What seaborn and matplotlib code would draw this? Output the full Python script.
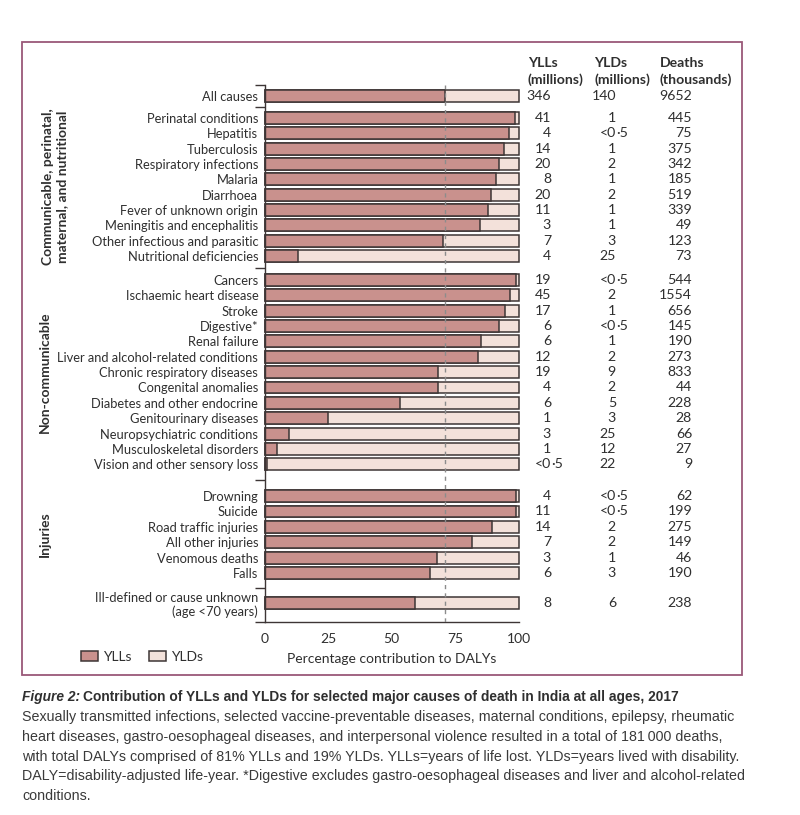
import numpy as np
import pandas as pd
import matplotlib
matplotlib.use('Agg')
import matplotlib.pyplot as plt
import matplotlib.transforms as mtransforms
from matplotlib.patches import Patch, Rectangle
import seaborn as sns

# ---- data ----
causes = ['All causes',
          'Perinatal conditions', 'Hepatitis', 'Tuberculosis', 'Respiratory infections',
          'Malaria', 'Diarrhoea', 'Fever of unknown origin', 'Meningitis and encephalitis',
          'Other infectious and parasitic', 'Nutritional deficiencies',
          'Cancers', 'Ischaemic heart disease', 'Stroke', 'Digestive*', 'Renal failure',
          'Liver and alcohol-related conditions', 'Chronic respiratory diseases',
          'Congenital anomalies', 'Diabetes and other endocrine', 'Genitourinary diseases',
          'Neuropsychiatric conditions', 'Musculoskeletal disorders',
          'Vision and other sensory loss',
          'Drowning', 'Suicide', 'Road traffic injuries', 'All other injuries',
          'Venomous deaths', 'Falls',
          'Ill-defined or cause unknown\n(age <70 years)']
group_of = [0] + [1] * 10 + [2] * 13 + [3] * 6 + [4]
group_names = {1: 'Communicable, perinatal,\nmaternal, and nutritional',
               2: 'Non-communicable', 3: 'Injuries'}

# percentage of DALYs from YLLs (rest is YLDs)
yll_pct = [70.9,
           98.4, 96.2, 94.0, 92.3, 91.0, 89.0, 87.7, 84.8, 70.3, 13.3,
           98.7, 96.5, 94.6, 92.3, 85.2, 84.0, 68.3, 68.3, 53.2, 25.1, 9.7, 4.8, 1.1,
           98.9, 98.9, 89.5, 81.7, 67.8, 64.9,
           59.0]
yll_m = ['346', '41', '4', '14', '20', '8', '20', '11', '3', '7', '4',
         '19', '45', '17', '6', '6', '12', '19', '4', '6', '1', '3', '1', '<0·5',
         '4', '11', '14', '7', '3', '6', '8']
yld_m = ['140', '1', '<0·5', '1', '2', '1', '2', '1', '1', '3', '25',
         '<0·5', '2', '1', '<0·5', '1', '2', '9', '2', '5', '3', '25', '12', '22',
         '<0·5', '<0·5', '2', '2', '1', '3', '6']
deaths_k = ['9652', '445', '75', '375', '342', '185', '519', '339', '49', '123', '73',
            '544', '1554', '656', '145', '190', '273', '833', '44', '228', '28', '66', '27', '9',
            '62', '199', '275', '149', '46', '190', '238']
headers = [('YLLs', '(millions)'), ('YLDs', '(millions)'), ('Deaths', '(thousands)')]

# ---- layout: row positions with extra space between groups ----
gap_extra = {1: 0.43, 2: 0.56, 3: 1.08, 4: 0.96}
pos = []
p = -1.0
for i, g in enumerate(group_of):
    p += 1 + (gap_extra[g] if i > 0 and g != group_of[i - 1] else 0)
    pos.append(p)
y_top, y_bot = -0.72, pos[-1] + 1.24
bounds = [y_top] + [(pos[i] + pos[i + 1]) / 2 for i in range(len(pos) - 1)
                    if group_of[i] != group_of[i + 1]] + [y_bot]

df = pd.DataFrame({'cause': causes, 'pos': pos, 'yll': yll_pct, 'total': 100.0})

YLL_COL = '#C9918D'
YLD_COL = '#F3E1DA'
EDGE = '#3d3535'
TXT = '#2f2f2f'
BORDER = '#9A5878'
CAP_FONT = ['Liberation Sans', 'DejaVu Sans']

sns.set_style('white')
plt.rcParams['font.family'] = ['Lato', 'DejaVu Sans']
plt.rcParams['text.color'] = TXT

fig = plt.figure(figsize=(8, 8.15), dpi=100)
ax = fig.add_axes([264.5 / 800, 1 - 622 / 815, 254.5 / 800, 537 / 815])

sns.barplot(data=df, x='total', y='pos', orient='y', native_scale=True, color=YLD_COL,
            saturation=1, edgecolor=EDGE, linewidth=1.1, width=0.78, errorbar=None, ax=ax)
sns.barplot(data=df, x='yll', y='pos', orient='y', native_scale=True, color=YLL_COL,
            saturation=1, edgecolor=EDGE, linewidth=1.1, width=0.78, errorbar=None, ax=ax)
for bar in ax.patches:
    bar.set_clip_on(False)

# reference line at the all-causes share
ax.axvline(yll_pct[0], color='#8c8c8c', lw=1.0, ls=(0, (3, 3)), zorder=5)

ax.set_xlim(0, 100)
ax.set_ylim(y_bot, y_top)
ax.set_xticks([0, 25, 50, 75, 100])
ax.xaxis.get_major_ticks()[0].tick1line.set_visible(False)
ax.tick_params(axis='x', length=6, width=1, color=EDGE, pad=2, labelsize=10, labelcolor=TXT)
ax.set_yticks(pos, labels=causes)
ax.tick_params(axis='y', which='major', length=0, pad=4.5, labelsize=9.3, labelcolor=TXT)
ax.set_yticks(bounds, minor=True)
ax.tick_params(axis='y', which='minor', length=7, width=1, color=EDGE, left=True)
ax.set_xlabel('Percentage contribution to DALYs', fontsize=10, color=TXT, labelpad=6)
ax.set_ylabel('')
sns.despine(ax=ax, top=True, right=True)
for s in ['left', 'bottom']:
    ax.spines[s].set_color(EDGE)
    ax.spines[s].set_linewidth(1)

# group labels on the left
blend = mtransforms.blended_transform_factory(fig.transFigure, ax.transData)
for g, name in group_names.items():
    ys = [pp for pp, gg in zip(pos, group_of) if gg == g]
    xg = 55 / 800 if '\n' in name else 45 / 800
    fig.text(xg, np.mean(ys), name, transform=blend, rotation=90, ha='center', va='center',
             fontsize=10, fontweight='bold', color=TXT, multialignment='center')

# table on the right (x in data units of the bar axis)
dec_x = [112.6, 138.1]
deaths_x = 168.0
head_x = [103.5, 129.5, 155.4]
for hx, (h1, h2) in zip(head_x, headers):
    ax.text(hx, -2.17, h1, ha='left', va='center', fontsize=10.1, fontweight='bold',
            color=TXT, clip_on=False)
    ax.text(hx, -1.09, h2, ha='left', va='center', fontsize=10.1, fontweight='bold',
            color=TXT, clip_on=False)


def dec_text(x, y, s):
    whole, _, frac = s.partition('·')
    ax.text(x, y, whole, ha='right', va='center', fontsize=10.2, color=TXT, clip_on=False)
    if frac:
        ax.text(x, y, '·' + frac, ha='left', va='center', fontsize=10.2, color=TXT,
                clip_on=False)


for yy, a, b, d in zip(pos, yll_m, yld_m, deaths_k):
    dec_text(dec_x[0], yy, a)
    dec_text(dec_x[1], yy, b)
    ax.text(deaths_x, yy, d, ha='right', va='center', fontsize=10.2, color=TXT, clip_on=False)

# legend
handles = [Patch(facecolor=YLL_COL, edgecolor=EDGE, linewidth=1.1, label='YLLs'),
           Patch(facecolor=YLD_COL, edgecolor=EDGE, linewidth=1.1, label='YLDs')]
fig.legend(handles=handles, loc='center left', bbox_to_anchor=(81 / 800, 1 - 657 / 815),
           ncol=2, frameon=False, fontsize=10, handlelength=1.25, handleheight=0.75,
           handletextpad=0.3, columnspacing=1.3, borderpad=0, borderaxespad=0,
           labelcolor=TXT)

# border around the chart panel
fig.patches.append(Rectangle((22 / 800, 1 - 675 / 815), 720 / 800, 633 / 815,
                             transform=fig.transFigure, fill=False, edgecolor=BORDER,
                             linewidth=1.3))

# caption: font size fitted so each line keeps the reference width
r = fig.canvas.get_renderer()


def fitted(x, y, s, target_w, **kw):
    t = fig.text(x, y, s, family=CAP_FONT, fontsize=10, va='center', ha='left', **kw)
    w = t.get_window_extent(renderer=r).width
    t.set_fontsize(10 * target_w / w)
    return t


t1 = fitted(22 / 800, 1 - 697 / 815, 'Figure 2: Contribution of YLLs and YLDs for selected '
            'major causes of death in India at all ages, 2017', 655,
            fontweight='bold', color=TXT)
title_size = t1.get_fontsize()
t1.remove()
t1 = fig.text(22 / 800, 1 - 697 / 815, 'Figure 2:', family=CAP_FONT,
              fontsize=title_size, fontweight='bold', fontstyle='italic', va='center',
              ha='left', color=TXT)
w1 = t1.get_window_extent(renderer=r).width
fig.text(22 / 800 + (w1 + 3) / 800, 1 - 697 / 815,
         'Contribution of YLLs and YLDs for selected major causes of death in India at all ages, 2017',
         family=CAP_FONT, fontsize=title_size, fontweight='bold',
         va='center', ha='left', color=TXT)

caption_lines = [
    'Sexually transmitted infections, selected vaccine-preventable diseases, maternal conditions, epilepsy, rheumatic',
    'heart diseases, gastro-oesophageal diseases, and interpersonal violence resulted in a total of 181\u2009000 deaths,',
    'with total DALYs comprised of 81% YLLs and 19% YLDs. YLLs=years of life lost. YLDs=years lived with disability.',
    'DALY=disability-adjusted life-year. *Digestive excludes gastro-oesophageal diseases and liver and alcohol-related',
    'conditions.',
]
t = fitted(22 / 800, 1 - 717 / 815, caption_lines[0], 707, color='#3a3a3a')
cap_size = t.get_fontsize()
for k, line in enumerate(caption_lines[1:], start=1):
    fig.text(22 / 800, 1 - (717 + 19.8 * k) / 815, line, family=CAP_FONT,
             fontsize=cap_size, va='center', ha='left', color='#3a3a3a')

fig.savefig('out.png', dpi=100)
